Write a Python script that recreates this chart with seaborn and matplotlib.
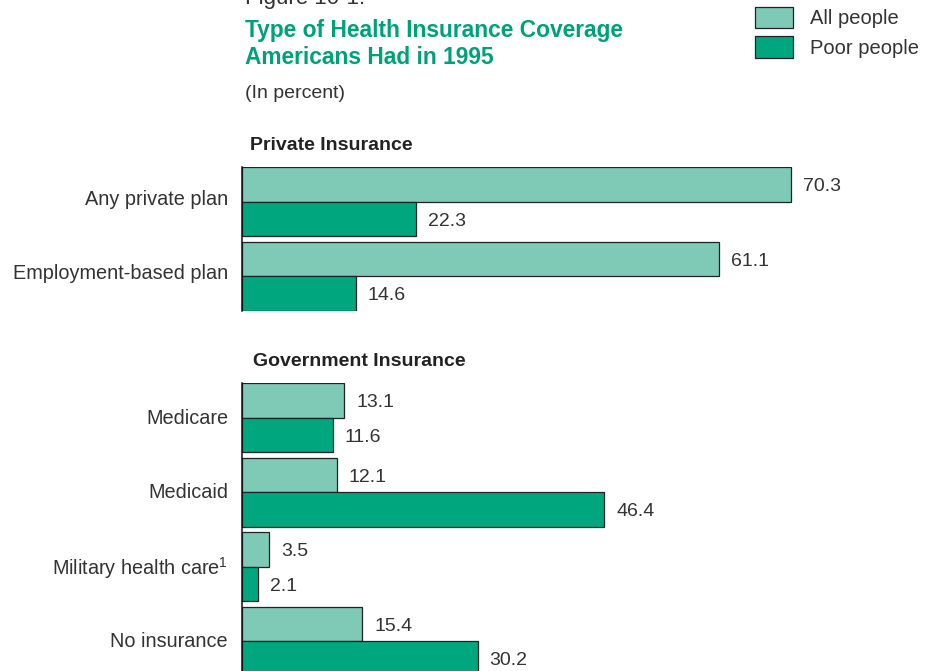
import matplotlib
matplotlib.use("Agg")
import matplotlib.pyplot as plt
import matplotlib.transforms as mtransforms
import seaborn as sns
import pandas as pd

# Data (percent of people covered, 1995)
groups = ["All people", "Poor people"]
private_types = ["Any private plan", "Employment-based plan"]
private_all = [70.3, 61.1]
private_poor = [22.3, 14.6]
gov_types = ["Medicare", "Medicaid", "Military health care$^{1}$", "No insurance"]
gov_all = [13.1, 12.1, 3.5, 15.4]
gov_poor = [11.6, 46.4, 2.1, 30.2]

LIGHT = "#7ecab7"
DARK = "#00a67e"
GREEN_TEXT = "#00a07a"
TEXT = "#333333"

sns.set_theme(style="white")
plt.rcParams["font.family"] = ["Liberation Sans", "DejaVu Sans"]
plt.rcParams["mathtext.fontset"] = "custom"
plt.rcParams["mathtext.rm"] = "Liberation Sans"
plt.rcParams["mathtext.default"] = "regular"


def to_frame(types, all_vals, poor_vals):
    rows = []
    for t, a, p in zip(types, all_vals, poor_vals):
        rows.append({"type": t, "group": groups[0], "value": a})
        rows.append({"type": t, "group": groups[1], "value": p})
    return pd.DataFrame(rows)


fig = plt.figure(figsize=(9.3, 6.71), dpi=100)
W, H = 930, 671
px_per_unit = 74.5
half = 0.465
xmax = 80.0
left = 242 / W
width = xmax * 7.81 / W


def make_axes(top_px, n):
    h_px = (n - 1 + 2 * half) * px_per_unit
    return fig.add_axes([left, 1 - (top_px + h_px) / H, width, h_px / H])


def draw(ax, df, order, label_shift_px):
    sns.barplot(data=df, y="type", x="value", hue="group", order=order,
                hue_order=groups, palette=[LIGHT, DARK], width=2 * half,
                edgecolor="#222222", linewidth=0.9, saturation=1,
                orient="h", ax=ax)
    for cont in ax.containers:
        texts = ax.bar_label(cont, labels=[f"{v:.1f}" for v in cont.datavalues],
                             padding=8.5, fontsize=14, color=TEXT)
        for t in texts:
            t.xyann = (8.5, -1.6)
    ax.set_xlim(0, xmax)
    ax.set_ylim(len(order) - 1 + half, -half)
    ax.set_xlabel("")
    ax.set_ylabel("")
    ax.set_xticks([])
    for s in ["top", "right", "bottom"]:
        ax.spines[s].set_visible(False)
    ax.spines["left"].set_color("#111111")
    ax.spines["left"].set_linewidth(1.1)
    ax.tick_params(axis="y", length=0, pad=10, labelsize=14.3, labelcolor=TEXT)
    shift = mtransforms.ScaledTranslation(0, label_shift_px / 100, fig.dpi_scale_trans)
    for lab in ax.get_yticklabels():
        lab.set_transform(lab.get_transform() + shift)
    h, l = ax.get_legend_handles_labels()
    if ax.get_legend() is not None:
        ax.get_legend().remove()
    return h, l


ax1 = make_axes(167, 2)
handles, labels = draw(ax1, to_frame(private_types, private_all, private_poor),
                       private_types, 4.5)
ax2 = make_axes(383, 4)
draw(ax2, to_frame(gov_types, gov_all, gov_poor), gov_types, 1.5)

# Titles and section headings
fig.text(245 / W, 1 - 4 / H, "Figure 10-1.", fontsize=16, color=TEXT,
         ha="left", va="baseline")
fig.text(245 / W, 1 - 30 / H, "Type of Health Insurance Coverage",
         fontsize=16.4, fontweight="bold", color=GREEN_TEXT, ha="left", va="center")
fig.text(245 / W, 1 - 57 / H, "Americans Had in 1995",
         fontsize=16.4, fontweight="bold", color=GREEN_TEXT, ha="left", va="center")
fig.text(245 / W, 1 - 93 / H, "(In percent)", fontsize=14, color=TEXT,
         ha="left", va="center")
fig.text(250 / W, 1 - 146 / H, "Private Insurance", fontsize=14,
         fontweight="bold", color="#222222", ha="left", va="center")
fig.text(253 / W, 1 - 361 / H, "Government Insurance", fontsize=14,
         fontweight="bold", color="#222222", ha="left", va="center")

# Legend
fig.legend(handles, labels, loc="upper left", bbox_to_anchor=(752 / W, 1 - 4 / H),
           frameon=False, fontsize=14.5, handlelength=1.9, handleheight=1.25,
           handletextpad=0.85, labelspacing=0.4, labelcolor=TEXT,
           borderaxespad=0, borderpad=0.15)

fig.savefig("out.png", dpi=100)
